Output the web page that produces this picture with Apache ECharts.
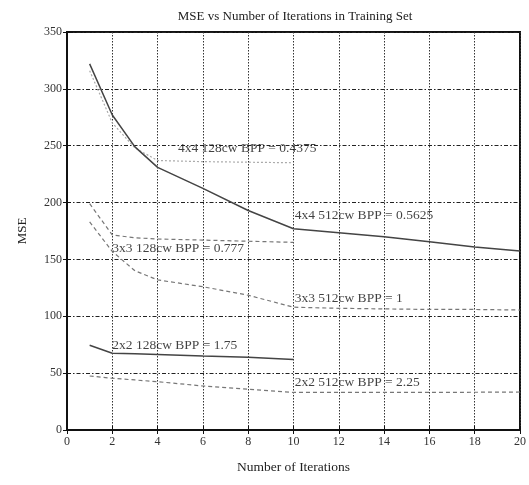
<!DOCTYPE html>
<html>
<head>
<meta charset="utf-8">
<script src="https://cdn.jsdelivr.net/npm/echarts@6/dist/echarts.min.js"></script>
<style>html,body{margin:0;padding:0;background:#fff}#c{width:529px;height:485px}</style>
</head>
<body>
<div id="c"></div>
<script>
var titleText = 'MSE vs Number of Iterations in Training Set';
var xName = 'Number of Iterations';
var yName = 'MSE';

var iter128 = [1, 2, 3, 4, 6, 8, 10];
var iter512 = [1, 2, 3, 4, 6, 8, 10, 12, 14, 16, 18, 20];

var mse4x4_128 = [316, 270, 248, 237, 236, 235.5, 235];
var mse4x4_512 = [322, 277, 249, 231, 212.5, 193, 177, 173.5, 170, 165.5, 161, 157.5];
var mse3x3_128 = [199, 171.5, 169, 168, 167, 166, 165];
var mse3x3_512 = [183, 157, 140, 132, 126, 118.5, 108, 107, 106.5, 106, 106, 105.5];
var mse2x2_128 = [74.5, 67.5, 67, 66.5, 65, 64, 62];
var mse2x2_512 = [47.5, 45.5, 44, 42.5, 38.7, 35.8, 33, 33, 33, 33, 33.2, 33.4];

var labelTexts = ['4x4 128cw BPP = 0.4375', '4x4 512cw BPP = 0.5625', '3x3 128cw BPP = 0.777',
                  '3x3 512cw BPP = 1', '2x2 128cw BPP = 1.75', '2x2 512cw BPP = 2.25'];
var labelX = [4.9, 10.05, 2.0, 10.05, 2.0, 10.05];
var labelY = [248, 189, 160, 116, 74.5, 41.5];

function pairs(xs, ys) { return xs.map(function (x, i) { return [x, ys[i]]; }); }

var font = 'Liberation Serif';
var chart = echarts.init(document.getElementById('c'));

function mk(name, xs, ys, color, type, width) {
  return {
    name: name, type: 'line', data: pairs(xs, ys), symbol: 'none', smooth: false,
    lineStyle: { color: color, type: type, width: width }, z: 3, animation: false
  };
}

var series = [
  mk('4x4 128', iter128, mse4x4_128, '#aaaaaa', [2, 2], 1.2),
  mk('4x4 512', iter512, mse4x4_512, '#444444', 'solid', 1.5),
  mk('3x3 128', iter128, mse3x3_128, '#777777', [4, 3], 1.2),
  mk('3x3 512', iter512, mse3x3_512, '#777777', [4, 3], 1.2),
  mk('2x2 128', iter128, mse2x2_128, '#444444', 'solid', 1.5),
  mk('2x2 512', iter512, mse2x2_512, '#777777', [4, 3], 1.2)
];

series.push({
  type: 'scatter', symbolSize: 0, animation: false, z: 5,
  data: labelTexts.map(function (t, i) { return { value: [labelX[i], labelY[i]], name: t }; }),
  label: {
    show: true, position: 'right', distance: 0, formatter: function (p) { return p.name; },
    fontFamily: font, fontSize: 13.5, color: '#111'
  }
});

chart.setOption({
  animation: false,
  title: {
    text: titleText, left: 290, top: 5, textAlign: 'center',
    textStyle: { fontFamily: font, fontSize: 13, fontWeight: 'normal', color: '#222' }
  },
  grid: { left: 67, right: 8, top: 32, bottom: 55, show: true, borderColor: '#111', borderWidth: 2 },
  xAxis: [{
    type: 'value', min: 0, max: 20, interval: 2,
    name: xName, nameLocation: 'middle', nameGap: 30,
    nameTextStyle: { fontFamily: font, fontSize: 13.5, color: '#222' },
    axisLine: { lineStyle: { color: '#111', width: 2 } },
    axisTick: { inside: true, length: 4, lineStyle: { color: '#111' } },
    axisLabel: { fontFamily: font, fontSize: 12, color: '#333', margin: 6 },
    splitLine: { show: true, lineStyle: { color: '#333', type: [1.5, 1.5], width: 1 } }
  }, {
    type: 'value', min: 0, max: 20, interval: 2, position: 'top',
    axisLine: { lineStyle: { color: '#111', width: 2 } },
    axisTick: { inside: true, length: 4, lineStyle: { color: '#111' } },
    axisLabel: { show: false }, splitLine: { show: false }
  }],
  yAxis: [{
    type: 'value', min: 0, max: 350, interval: 50,
    name: yName, nameLocation: 'middle', nameGap: 38, nameRotate: 90,
    nameTextStyle: { fontFamily: font, fontSize: 13, color: '#222' },
    axisLine: { show: true, lineStyle: { color: '#111', width: 2 } },
    axisTick: { show: true, inside: true, length: 4, lineStyle: { color: '#111' } },
    axisLabel: { fontFamily: font, fontSize: 12, color: '#333', margin: 5 },
    splitLine: { show: true, lineStyle: { color: '#222', type: [4, 2, 1.5, 2], width: 1.2 } }
  }, {
    type: 'value', min: 0, max: 350, interval: 50, position: 'right',
    axisLine: { show: true, lineStyle: { color: '#111', width: 2 } },
    axisTick: { show: true, inside: true, length: 4, lineStyle: { color: '#111' } },
    axisLabel: { show: false }, splitLine: { show: false }
  }],
  series: series
});
</script>
</body>
</html>
